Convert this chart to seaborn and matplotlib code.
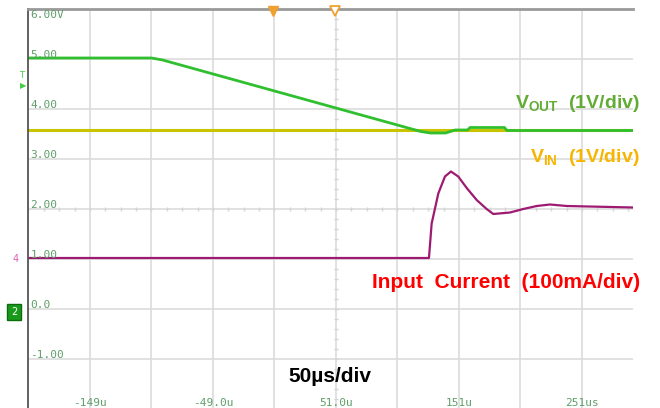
import numpy as np
import pandas as pd
import seaborn as sns
import matplotlib.pyplot as plt
import matplotlib as mpl

# Scope traces (time in us, value in screen divisions)
vout_t = [-199.4, -99, -90, 120, 128, 140, 148, 158, 160, 188, 190, 292.5]
vout_v = [5.02, 5.02, 4.98, 3.55, 3.52, 3.52, 3.58, 3.58, 3.63, 3.63, 3.57, 3.57]

vin_t = [-199.4, 292.5]
vin_v = [3.58, 3.58]

cur_t = [-199.4, 126.6, 128.8, 134.2, 139.6, 144.5, 150.4, 157.3, 165.4, 173.5,
         178.9, 192.5, 203.3, 214.2, 225, 238.6, 292.5]
cur_v = [1.02, 1.02, 1.71, 2.31, 2.65, 2.75, 2.65, 2.42, 2.18, 2.0,
         1.90, 1.93, 2.0, 2.06, 2.09, 2.06, 2.03]

# Graticule labels
y_levels = [6, 5, 4, 3, 2, 1, 0, -1]
y_labels = ["6.00V", "5.00", "4.00", "3.00", "2.00", "1.00", "0.0", "-1.00"]
x_grid = [-149, -99, -49, 1, 51, 101, 151, 201, 251]
x_label_pos = [-149, -49, 51, 151, 251]
x_labels = ["-149u", "-49.0u", "51.0u", "151u", "251us"]

sns.set_style("white")
mpl.rcParams["mathtext.fontset"] = "custom"
mpl.rcParams["mathtext.bf"] = "Liberation Sans:bold"
mpl.rcParams["mathtext.rm"] = "Liberation Sans:bold"

fig = plt.figure(figsize=(6.6, 4.08), dpi=100)
ax = fig.add_axes([28 / 660, 0, 605 / 660, 399 / 408])

ax.set_xlim(-199.4, 292.5)
ax.set_ylim(-1.98, 6)

# grid
for x in x_grid:
    ax.axvline(x, color="#dcdcdc", lw=1.2, zorder=0)
for y in y_levels[1:]:
    ax.axhline(y, color="#dcdcdc", lw=1.2, zorder=0)

# center-line minor ticks
mx = np.arange(-199, 292, 12.5)
ax.plot(mx, np.full(len(mx), 2.0), ls="none", marker="|", ms=3, color="#d4d4d4", zorder=0)
my = np.arange(-1.8, 6, 0.2)
ax.plot(np.full(len(my), 51.0), my, ls="none", marker="_", ms=3, color="#d4d4d4", zorder=0)

ax.set_xticks([])
ax.set_yticks([])
for s in ["right", "bottom"]:
    ax.spines[s].set_visible(False)
ax.spines["left"].set_color("#555555")
ax.spines["left"].set_linewidth(1.3)
ax.spines["top"].set_color("#999999")
ax.spines["top"].set_linewidth(2)

# traces
sns.lineplot(x=vin_t, y=vin_v, ax=ax, color="#c9c400", lw=2.2, sort=False)
sns.lineplot(x=cur_t, y=cur_v, ax=ax, color="#9e1a72", lw=1.6, sort=False)
sns.lineplot(x=vout_t, y=vout_v, ax=ax, color="#2fbf2f", lw=2.0, sort=False)

# graticule text
lab_col = "#5f9e6a"
for lv, lt in zip(y_levels, y_labels):
    yy = 5.88 if lv == 6 else lv + 0.07
    ax.text(0.004, yy, lt, transform=ax.get_yaxis_transform(), family="DejaVu Sans Mono",
            fontsize=8, color=lab_col, va="center", ha="left")
for xp, xt in zip(x_label_pos, x_labels):
    ax.text(xp, 0.013, xt, transform=ax.get_xaxis_transform(), family="DejaVu Sans Mono",
            fontsize=8, color=lab_col, va="center", ha="center")

# trigger markers on top
ax.plot([0], [5.97], marker="v", ms=7, color="#f0a030", clip_on=False, zorder=5)
ax.plot([50], [5.97], marker="v", ms=7, color="#f0a030", mfc="white", mew=1.3,
        clip_on=False, zorder=5)

# annotations
ax.text(298, 4.1, r"V$_{\mathbf{OUT}}$  (1V/div)", family="Liberation Sans", weight="bold",
        fontsize=14, color="#62ab35", ha="right", va="center")
ax.text(298, 3.03, r"V$_{\mathbf{IN}}$  (1V/div)", family="Liberation Sans", weight="bold",
        fontsize=14, color="#f7b500", ha="right", va="center")
ax.text(298, 0.52, "Input  Current  (100mA/div)", family="Liberation Sans", weight="bold",
        fontsize=15, color="#ff0000", ha="right", va="center")
ax.text(46, -1.36, "50\u00b5s/div", family="Liberation Sans", weight="bold",
        fontsize=15, color="black", ha="center", va="center")

# channel markers left of the screen
fig.text(22 / 660, 1 - 75 / 408, "T", color="#44cc44", fontsize=6, ha="center", va="center")
fig.text(23 / 660, 1 - 86 / 408, "\u25b6", color="#44cc44", fontsize=6, ha="center", va="center")
fig.text(16 / 660, 1 - 259 / 408, "4", color="#e060b0", fontsize=7, ha="center", va="center")
fig.text(14 / 660, 1 - 312 / 408, "2", color="white", fontsize=7, ha="center", va="center",
         bbox=dict(boxstyle="square,pad=0.35", fc="#1a9a1a", ec="#0d6d0d"))

fig.savefig("out.png", dpi=100)
